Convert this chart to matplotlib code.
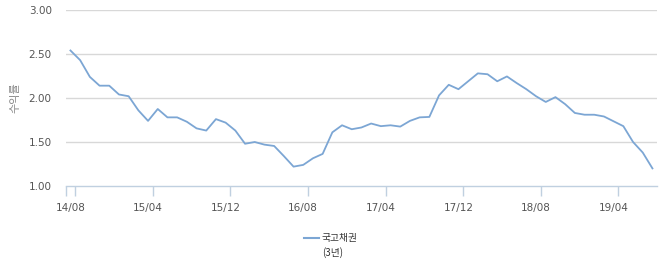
import numpy as np
import matplotlib
matplotlib.use('Agg')
import matplotlib.pyplot as plt
from matplotlib.lines import Line2D

# monthly yield, 2014/08 .. 2019/08
yields = [2.54, 2.43, 2.24, 2.14, 2.14, 2.04, 2.02, 1.86, 1.74, 1.875,
          1.78, 1.78, 1.73, 1.655, 1.63, 1.76, 1.72, 1.63, 1.48, 1.50,
          1.47, 1.455, 1.34, 1.22, 1.24, 1.315, 1.365, 1.61, 1.69, 1.645,
          1.665, 1.71, 1.68, 1.69, 1.675, 1.74, 1.78, 1.785, 2.03, 2.15,
          2.10, 2.19, 2.28, 2.27, 2.19, 2.245, 2.17, 2.10, 2.02, 1.955,
          2.01, 1.93, 1.83, 1.81, 1.81, 1.79, 1.735, 1.68, 1.50, 1.38,
          1.20]
tick_labels = ['14/08', '15/04', '15/12', '16/08', '17/04', '17/12', '18/08', '19/04']
y_ticks = [1.0, 1.5, 2.0, 2.5, 3.0]
series_name = '국고채권'
series_sub = '(3년)'
y_title = '수익률'

W, H = 660, 267
fig = plt.figure(figsize=(W / 100, H / 100), dpi=100)
ax = fig.add_axes([65.6 / W, 1 - 186 / H, (657.3 - 65.6) / W, (186 - 10) / H])

x = np.arange(len(yields))
ax.plot(x, yields, color='#7ca6d4', lw=1.3, solid_joinstyle='round')

ax.set_xlim(-0.5, len(yields) - 0.5)
ax.set_ylim(1.0, 3.0)

for s in ['top', 'right', 'left']:
    ax.spines[s].set_visible(False)
ax.spines['bottom'].set_color('#c0d0e0')
ax.spines['bottom'].set_linewidth(1.0)

ax.set_yticks(y_ticks)
ax.set_yticklabels(['%.2f' % v for v in y_ticks])
ax.tick_params(axis='y', length=0, pad=10, labelsize=7.5, labelcolor='#555555')
for v in y_ticks[1:]:
    ax.axhline(v, color='#d8d8d8', lw=1.0, zorder=0)

label_pos = [8 * i for i in range(len(tick_labels))]
ax.set_xticks([-0.5] + [p + 0.5 for p in label_pos])
ax.set_xticklabels([])
ax.tick_params(axis='x', which='major', length=7, width=1.0, color='#c0d0e0')
ax.set_xticks(label_pos, minor=True)
ax.set_xticklabels(tick_labels, minor=True)
ax.tick_params(axis='x', which='minor', length=0, pad=12, labelsize=7.5, labelcolor='#555555')

fig.text(15 / W, 1 - 98 / H, y_title, rotation=90, ha='center', va='center',
         fontsize=8, color='#888888', family=['Noto Sans CJK KR', 'DejaVu Sans'])

# legend
fig.add_artist(Line2D([304 / W, 319 / W], [1 - 238 / H, 1 - 238 / H],
                      color='#7ca6d4', lw=1.5, transform=fig.transFigure))
fig.text(322 / W, 1 - 238 / H, series_name, ha='left', va='center',
         fontsize=7, color='#333333', family=['Noto Sans CJK KR', 'DejaVu Sans'])
fig.text(322 / W, 1 - 252.5 / H, series_sub, ha='left', va='center',
         fontsize=7, color='#333333', family=['Noto Sans CJK KR', 'DejaVu Sans'])

fig.savefig('out.png', dpi=100)
